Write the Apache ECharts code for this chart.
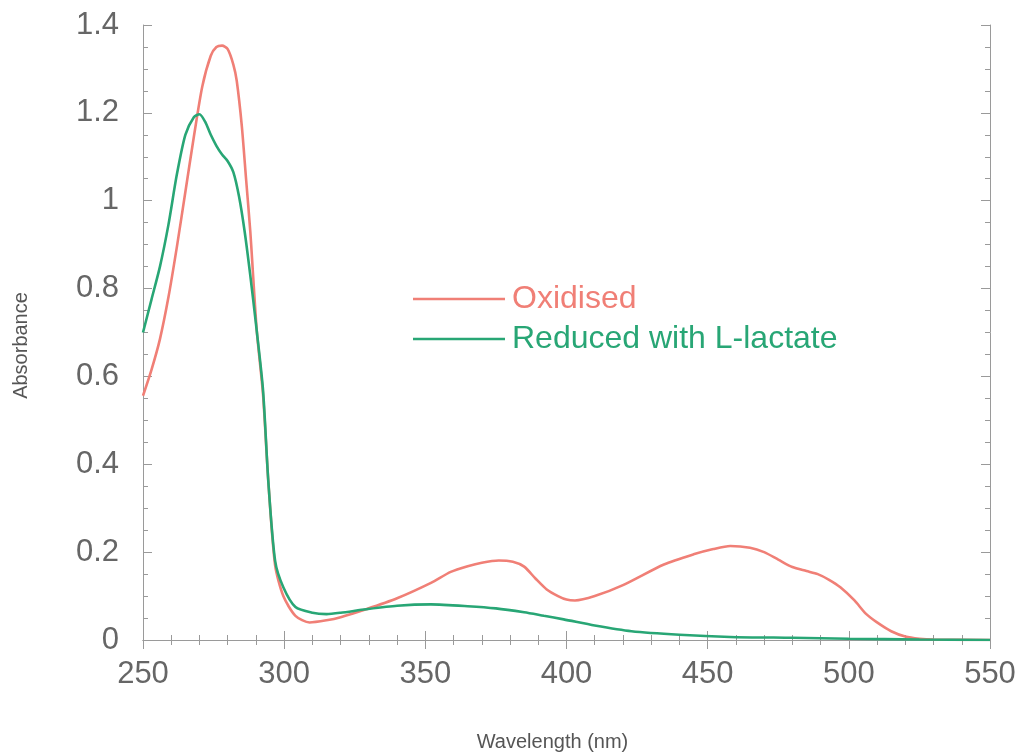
<!DOCTYPE html>
<html>
<head>
<meta charset="utf-8">
<script src="https://cdn.jsdelivr.net/npm/echarts@6/dist/echarts.min.js"></script>
<style>
  html, body { margin: 0; padding: 0; background: #fff; }
  #chart { width: 1020px; height: 753px; }
</style>
</head>
<body>
<div id="chart"></div>
<script>
// espectros (nm, absorbancia)
var oxidised = [
  [250, 0.556], [253, 0.615], [256, 0.685], [259, 0.78], [262, 0.895], [265, 1.02],
  [268, 1.145], [271, 1.26], [274, 1.33], [276, 1.35], [278, 1.353],
  [280, 1.345], [282, 1.31], [283.2, 1.273], [285, 1.17], [286.5, 1.05], [288, 0.93],
  [290.3, 0.704], [292.5, 0.56], [294.4, 0.36], [296.8, 0.17], [299.7, 0.1],
  [304, 0.055], [309, 0.04], [315, 0.045], [320, 0.052], [329, 0.07], [340, 0.095],
  [352, 0.13], [359, 0.155], [365, 0.168], [370, 0.176], [376, 0.181], [381, 0.178],
  [385, 0.167], [389, 0.14], [393, 0.115], [397, 0.1], [400, 0.092], [403, 0.09],
  [410, 0.1], [420, 0.125], [434.5, 0.172], [445, 0.195], [452, 0.207], [458, 0.214],
  [465, 0.21], [470, 0.2], [475, 0.183], [480, 0.166], [485, 0.157], [489, 0.15],
  [493, 0.137], [497, 0.12], [502, 0.09], [506, 0.06], [510, 0.04], [515, 0.02],
  [520, 0.008], [525, 0.003], [530, 0.001], [550, 0]
];

var reduced = [
  [250, 0.7], [253, 0.775], [256, 0.85], [259, 0.945], [262, 1.06], [265, 1.15],
  [268, 1.19], [270, 1.197], [272, 1.18], [274, 1.15],
  [276, 1.125], [278, 1.105], [280, 1.09], [282, 1.065], [284, 1.01], [286, 0.93],
  [288, 0.83], [290, 0.72], [292.5, 0.57], [294.4, 0.36], [296.8, 0.18], [299.7, 0.12],
  [304, 0.075], [310, 0.062], [315, 0.059], [320, 0.062], [329, 0.07], [340, 0.078],
  [352, 0.081], [365, 0.077], [375, 0.072], [385, 0.063], [392, 0.055], [399, 0.047],
  [410, 0.033], [423, 0.02], [440, 0.012], [458, 0.007], [480, 0.005], [500, 0.003],
  [525, 0.001], [550, 0]
];

var seriesNames = ['Oxidised', 'Reduced with L-lactate'];
var corVermelho = '#f07f76';
var corVerde = '#28a675';

var myChart = echarts.init(document.getElementById('chart'));

var eixoCor = '#9a9a9a';
var fonte = '"Liberation Sans", Arial, sans-serif';

var option = {
  animation: false,
  backgroundColor: '#fff',
  grid: { left: 143, right: 30, top: 25, bottom: 113, outerBoundsMode: 'none' },
  legend: {
    orient: 'vertical',
    left: 408,
    top: 278,
    icon: 'rect',
    itemWidth: 92,
    itemHeight: 2.5,
    itemGap: 8,
    textStyle: { fontSize: 32, lineHeight: 32, fontFamily: fonte, padding: [0, 0, 0, 2] },
    data: [
      { name: seriesNames[0], textStyle: { color: corVermelho } },
      { name: seriesNames[1], textStyle: { color: corVerde } }
    ]
  },
  xAxis: [
    {
      type: 'value',
      min: 250,
      max: 550,
      interval: 50,
      name: 'Wavelength (nm)',
      nameLocation: 'middle',
      nameGap: 92,
      nameTextStyle: { fontSize: 20, color: '#555', fontFamily: fonte, padding: [0, 28, 0, 0] },
      axisLine: { show: true, lineStyle: { color: eixoCor } },
      axisTick: { show: true, inside: true, length: 9, lineStyle: { color: eixoCor } },
      minorTick: { show: true, splitNumber: 5, length: 5, lineStyle: { color: eixoCor } },
      axisLabel: { fontSize: 31, color: '#666', margin: 19, fontFamily: fonte },
      splitLine: { show: false }
    },
    {
      type: 'value',
      position: 'top',
      min: 250,
      max: 550,
      interval: 50,
      axisLine: { show: true, lineStyle: { color: eixoCor } },
      axisTick: { show: true, inside: true, length: 9, lineStyle: { color: eixoCor } },
      minorTick: { show: true, splitNumber: 5, length: 5, lineStyle: { color: eixoCor } },
      axisLabel: { show: false },
      splitLine: { show: false }
    }
  ],
  yAxis: [
    {
      type: 'value',
      min: 0,
      max: 1.4,
      interval: 0.2,
      name: 'Absorbance',
      nameLocation: 'middle',
      nameGap: 112,
      nameTextStyle: { fontSize: 20, color: '#555', fontFamily: fonte, padding: [0, 26, 0, 0] },
      axisLine: { show: true, lineStyle: { color: eixoCor } },
      axisTick: { show: true, inside: true, length: 9, lineStyle: { color: eixoCor } },
      minorTick: { show: true, splitNumber: 4, length: 5, lineStyle: { color: eixoCor } },
      axisLabel: {
        fontSize: 31, color: '#666', margin: 24, fontFamily: fonte,
        formatter: function (v) { return String(Math.round(v * 10) / 10); }
      },
      splitLine: { show: false }
    },
    {
      type: 'value',
      position: 'right',
      min: 0,
      max: 1.4,
      interval: 0.2,
      axisLine: { show: true, lineStyle: { color: eixoCor } },
      axisTick: { show: true, inside: true, length: 9, lineStyle: { color: eixoCor } },
      minorTick: { show: true, splitNumber: 4, length: 5, lineStyle: { color: eixoCor } },
      axisLabel: { show: false },
      splitLine: { show: false }
    }
  ],
  series: [
    {
      name: seriesNames[0],
      type: 'line',
      data: oxidised,
      symbol: 'none',
      smooth: 0.25,
      color: corVermelho,
      lineStyle: { color: corVermelho, width: 2.6 }
    },
    {
      name: seriesNames[1],
      type: 'line',
      data: reduced,
      symbol: 'none',
      smooth: 0.25,
      color: corVerde,
      lineStyle: { color: corVerde, width: 2.6 }
    }
  ]
};

myChart.setOption(option);
</script>
</body>
</html>
